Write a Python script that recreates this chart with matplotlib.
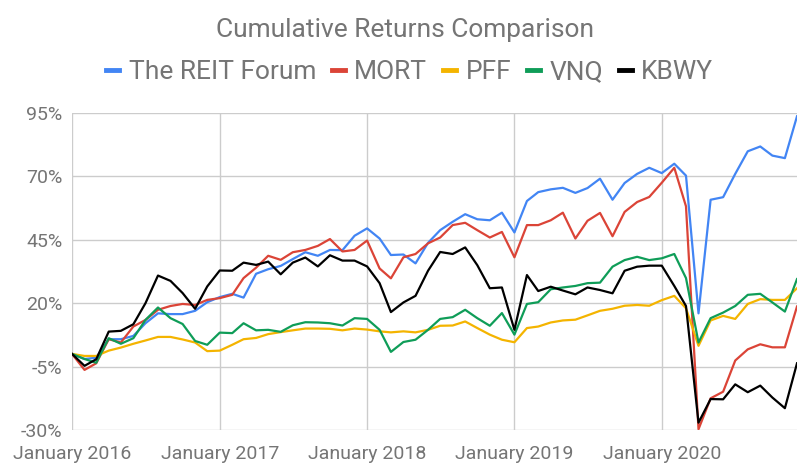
import pandas as pd
import matplotlib
matplotlib.use("Agg")
import matplotlib.pyplot as plt
import matplotlib.dates as mdates
from matplotlib.ticker import FuncFormatter

# monthly cumulative returns (%), Jan 2016 - Dec 2020
months = pd.date_range("2016-01-01", periods=60, freq="MS")

reit_forum = [0, -2, -1.5, 5.8, 5.8, 7.1, 12.1, 16, 15.7, 15.7,
              17, 20.4, 22.4, 23.7, 22.2, 31.6, 33.4, 34.7, 37.4, 40.1,
              38.7, 41, 40.9, 46.6, 49.5, 45.5, 39, 39.2, 35.7, 43.8,
              48.8, 52.1, 55.1, 53.1, 52.7, 55.7, 47.9, 60.3, 63.8, 64.9,
              65.5, 63.5, 65.4, 69.1, 60.8, 67.4, 71, 73.4, 71.3, 75,
              70.3, 16, 60.8, 61.8, 71, 79.9, 81.8, 78.2, 77.2, 93.7]
mort = [0, -6.3, -3.7, 5.8, 4.5, 10.8, 13.4, 17.4, 18.9, 19.7,
        19.3, 21.3, 22, 23.3, 29.9, 34, 38.7, 37.1, 40.1, 41,
        42.6, 45.3, 40.4, 41, 44.7, 33.7, 29.8, 38.1, 39.4, 43.6,
        45.9, 50.8, 51.7, 48.8, 45.9, 48.1, 38.1, 50.8, 50.8, 52.7,
        55.7, 45.5, 52.5, 55.6, 46.4, 56, 59.9, 61.9, 67.5, 73.4,
        58.2, -29.7, -17.5, -14.9, -2.6, 1.8, 3.8, 2.6, 2.6, 18.7]
pff = [0, -0.8, -0.8, 1.3, 2.5, 4, 5.3, 6.7, 6.7, 5.7,
       4.5, 1.1, 1.3, 3.6, 5.8, 6.3, 7.8, 8.6, 9.3, 10,
       10, 9.9, 9.3, 10, 9.6, 8.9, 8.5, 8.9, 8.5, 9.5,
       11.1, 11.2, 12.8, 10.2, 7.6, 5.6, 4.6, 10.2, 10.8, 12.4,
       13.2, 13.5, 15.2, 17, 17.8, 19, 19.3, 19, 21.2, 22.9,
       18, 3.2, 13.2, 15, 13.8, 19.7, 21.6, 21.3, 21.3, 25.9]
vnq = [0, -2, -3.5, 6.2, 4, 6.2, 13.4, 18.3, 14.1, 11.8,
       5.1, 3.6, 8.4, 8.2, 12.1, 9.3, 9.5, 8.7, 11.3, 12.5,
       12.4, 12.1, 11.2, 14.1, 13.8, 9.5, 0.8, 4.7, 5.6, 9.5,
       13.8, 14.5, 17.4, 14.1, 11.1, 16.1, 7.6, 19.7, 20.4, 25.5,
       26.2, 26.8, 27.9, 28.1, 34.4, 37, 38.3, 37, 37.7, 39.4,
       29.9, 4.5, 14.1, 16.3, 18.9, 23.3, 23.7, 20.3, 16.7, 29.5]
kbwy = [0, -4.7, -2.1, 8.8, 9.1, 11.7, 20, 30.9, 28.8, 24,
        17.8, 26.6, 32.9, 32.8, 36, 35.1, 36.4, 31.4, 36, 38,
        34.5, 38.9, 36.8, 36.8, 34.5, 27.9, 16.5, 20.3, 22.9, 32.8,
        40.2, 39.4, 42, 35, 25.9, 26.2, 9.5, 31.1, 24.8, 26.5,
        25, 23.5, 26.2, 25.2, 23.9, 32.8, 34.4, 34.8, 34.8, 26.8,
        18.9, -27.1, -17.8, -17.9, -12, -15.1, -12.5, -17.2, -21.4, -3.7]

series = [("The REIT Forum", reit_forum, "#4285F4"),
          ("MORT", mort, "#DB4437"),
          ("PFF", pff, "#F4B400"),
          ("VNQ", vnq, "#0F9D58"),
          ("KBWY", kbwy, "#000000")]
y_ticks = [-30, -5, 20, 45, 70, 95]

plt.rcParams["font.family"] = ["Roboto", "DejaVu Sans"]
text_color = "#757575"

fig = plt.figure(figsize=(8.1, 4.7), dpi=100)
ax = fig.add_axes([72 / 810, 1 - 430 / 470, (797 - 72) / 810, (430 - 113) / 470])

for name, vals, color in series:
    ax.plot(months, vals, color=color, lw=1.6, label=name)

ax.set_xlim(months[0], months[-1])
ax.set_ylim(-30, 95)
ax.set_yticks(y_ticks)
ax.yaxis.set_major_formatter(FuncFormatter(lambda v, p: f"{v:.0f}%"))
ax.xaxis.set_major_locator(mdates.YearLocator())
ax.xaxis.set_major_formatter(mdates.DateFormatter("January %Y"))

ax.grid(True, color="#cccccc", lw=1)
ax.set_axisbelow(True)
for s in ax.spines.values():
    s.set_visible(False)
ax.tick_params(length=0, labelsize=14, colors=text_color)
ax.tick_params(axis="y", pad=7)
ax.tick_params(axis="x", pad=11)

fig.suptitle("Cumulative Returns Comparison", y=1 - 30 / 470, va="center",
             fontsize=19, color=text_color)
leg = fig.legend(loc="center", bbox_to_anchor=(0.506, 1 - 72 / 470), ncol=5,
                 frameon=False, fontsize=19, labelcolor=text_color,
                 handlelength=0.5, handletextpad=0.35, columnspacing=0.6)
for h in leg.legend_handles:
    h.set_linewidth(3.5)

fig.savefig("out.png", dpi=100)
